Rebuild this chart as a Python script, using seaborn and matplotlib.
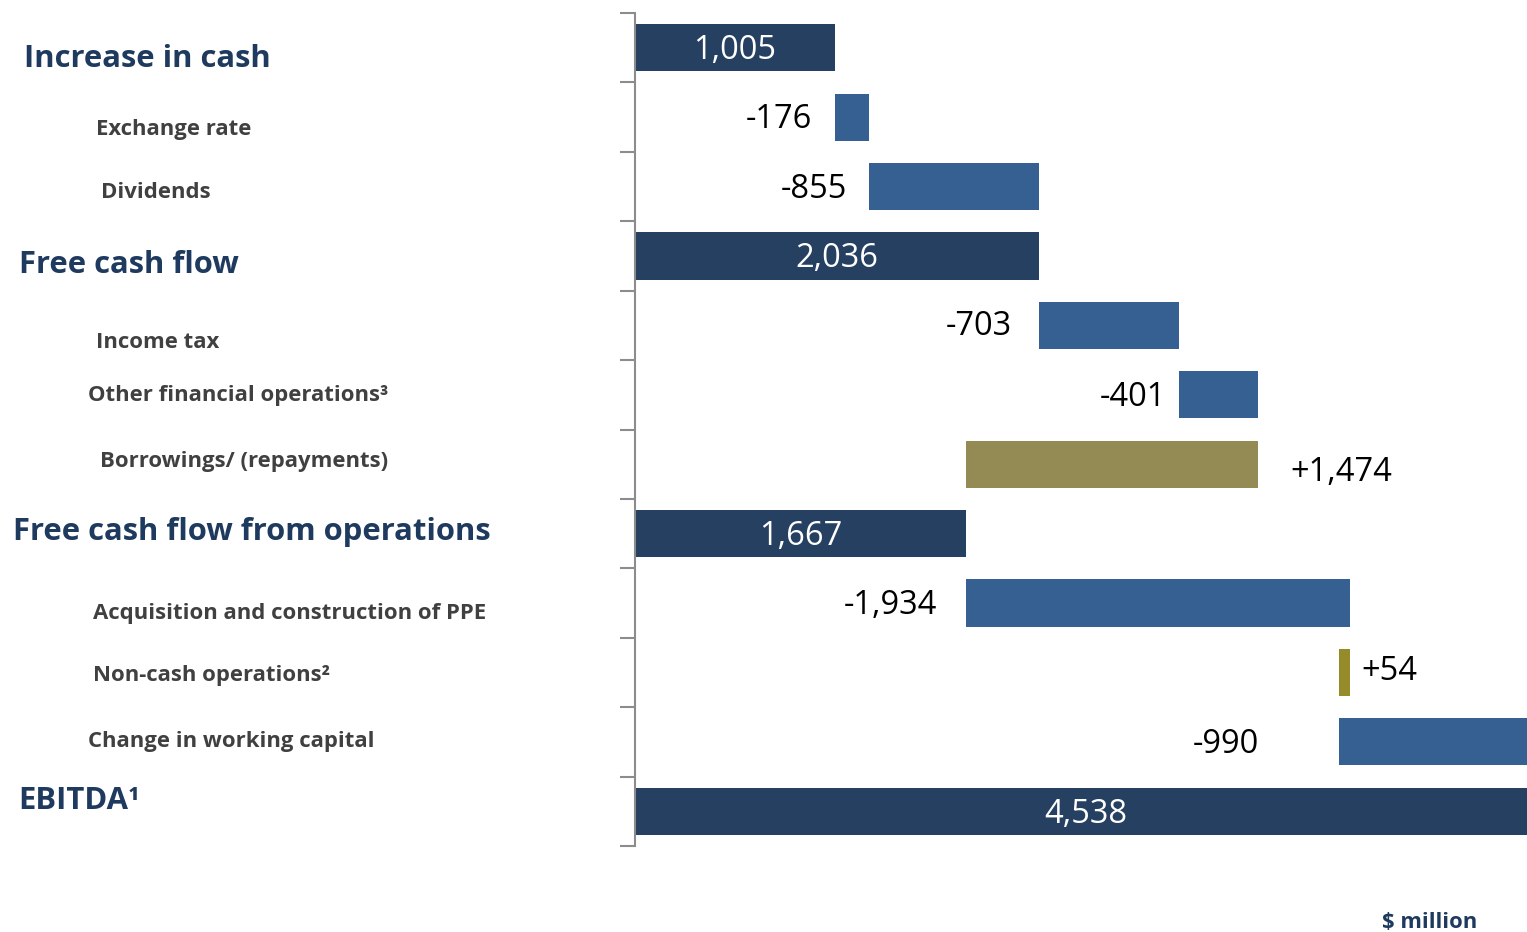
import matplotlib
matplotlib.use("Agg")
import matplotlib.pyplot as plt
import seaborn as sns
import numpy as np
import pandas as pd

# ---- data ----
categories = ["Increase in cash", "Exchange rate", "Dividends", "Free cash flow",
              "Income tax", "Other financial operations³", "Borrowings/ (repayments)",
              "Free cash flow from operations", "Acquisition and construction of PPE",
              "Non-cash operations²", "Change in working capital", "EBITDA¹"]
values = [1005, -176, -855, 2036, -703, -401, 1474, 1667, -1934, 54, -990, 4538]
kinds = ["total", "neg", "neg", "total", "neg", "neg", "pos", "total", "neg", "pos", "neg", "total"]
value_labels = ["1,005", "-176", "-855", "2,036", "-703", "-401", "+1,474", "1,667",
                "-1,934", "+54", "-990", "4,538"]

# ---- waterfall geometry: cumulative walk, top-down ----
n = len(values)
lefts, widths = [], []
lvl = 0.0
for i in range(n):
    v = float(values[i])
    if kinds[i] == "total":
        lefts.append(0.0); widths.append(v)
        lvl = v
    elif v < 0:
        lefts.append(lvl); widths.append(-v)
        lvl = lvl - v
    else:
        lefts.append(lvl - v); widths.append(v)
        lvl = lvl - v

# ---- styles ----
kind_colors = {"total": "#264061", "neg": "#376092", "pos": "#948A54"}
bar_colors = [kind_colors[k] for k in kinds]
bar_colors[9] = "#968B2B"
x_max = 4493  # axis extent (last bar runs past the right edge)
label_gap_pt = [0, 16, 16, 0, 20, 9, 23, 0, 21, 8, 58, 0]
label_dy_pt = [-2, -2, -2, -2, -1, -2, -6, -2, -2, 1, -2, -2]

label_x_px = [24, 96, 101, 19, 96, 88, 100, 13, 93, 93, 88, 18]
label_y_px = [59, 130, 192, 265, 343, 396, 461, 532, 613, 675, 741, 801]

W, H = 1527, 932
sns.set_theme(style="white")
plt.rcParams["font.family"] = ["Open Sans", "DejaVu Sans"]

fig = plt.figure(figsize=(W / 100, H / 100), dpi=100)
ax = fig.add_axes([635 / W, 1 - 846 / H, (W - 635) / W, 833 / H])

df = pd.DataFrame({"cat": categories, "width": widths})
sns.barplot(data=df, x="width", y="cat", order=categories, orient="y",
            left=lefts, width=0.68, color="#376092", saturation=1,
            linewidth=0, ax=ax)
for patch, c in zip(ax.patches, bar_colors):
    patch.set_facecolor(c)
    patch.set_edgecolor("none")

ax.set_xlim(0, x_max)
ax.set_ylim(n - 0.5, -0.5)
ax.set_xlabel("")
ax.set_ylabel("")
ax.set_xticks([])
ax.set_yticks(np.arange(-0.5, n, 1.0))
ax.set_yticklabels([])
ax.tick_params(axis="y", left=True, direction="out", length=11, width=1.5,
               color="#8c8c8c")
for s in ["top", "right", "bottom"]:
    ax.spines[s].set_visible(False)
ax.spines["left"].set_color("#8c8c8c")
ax.spines["left"].set_linewidth(1.5)

# value labels
vfs = 23.5
for i in range(n):
    y = i
    if kinds[i] == "total":
        ax.annotate(value_labels[i], xy=(lefts[i] + widths[i] / 2, y),
                    xytext=(0, label_dy_pt[i]), textcoords="offset points",
                    ha="center", va="center", color="white", fontsize=vfs,
                    annotation_clip=False)
    elif kinds[i] == "neg":
        ax.annotate(value_labels[i], xy=(lefts[i], y),
                    xytext=(-label_gap_pt[i], label_dy_pt[i]), textcoords="offset points",
                    ha="right", va="center", color="black", fontsize=vfs)
    else:
        ax.annotate(value_labels[i], xy=(lefts[i] + widths[i], y),
                    xytext=(label_gap_pt[i], label_dy_pt[i]), textcoords="offset points",
                    ha="left", va="center", color="black", fontsize=vfs)

# category labels on the left
for i in range(n):
    big = kinds[i] == "total"
    fig.text(label_x_px[i] / W, 1 - label_y_px[i] / H, categories[i],
             ha="left", va="center", fontweight="bold",
             fontsize=22.3 if big else 15.9,
             color="#1F3A5F" if big else "#404040")

fig.text(1430 / W, 1 - 922 / H, "$ million", ha="center", va="center",
         fontweight="bold", fontsize=15.8, color="#1F3A5F")

fig.savefig("out.png", dpi=100)
